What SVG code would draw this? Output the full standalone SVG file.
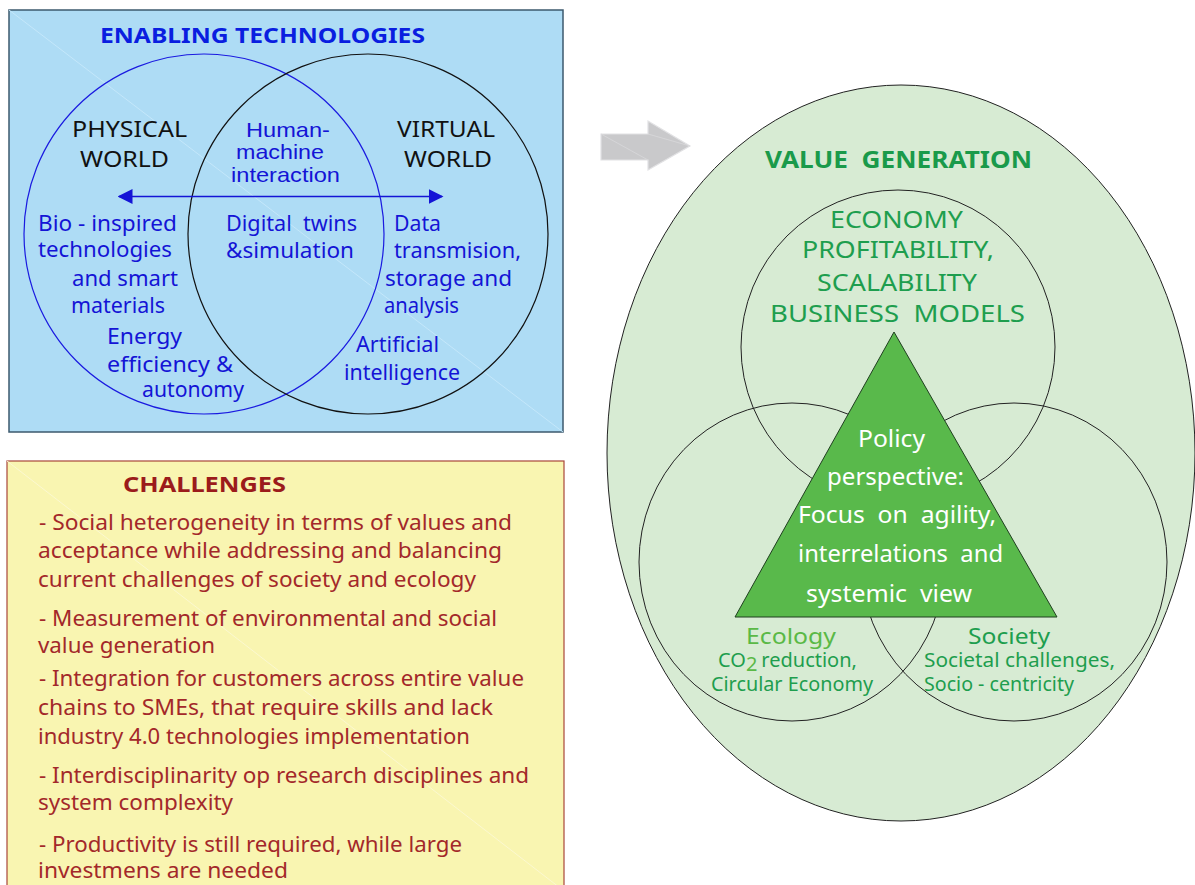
<svg xmlns="http://www.w3.org/2000/svg" width="1195" height="885" viewBox="0 0 1195 885">
<style>
text{font-family:"Noto Sans","Open Sans","DejaVu Sans",sans-serif;}
.bt{font-size:22px;fill:#1414d6;}
.bs{font-size:21px;fill:#1414d6;font-family:"Liberation Sans",Arial,sans-serif;}
.bk{font-size:22px;fill:#111;}
.gt{font-size:24px;fill:#1e9e4e;}
.wt{font-size:24px;fill:#ffffff;}
.gs{font-size:20px;fill:#1e9e4e;}
.rt{font-size:21px;fill:#a3282a;}
.ring{fill:none;stroke:#222;stroke-width:1;}
</style>
<defs>
<marker id="ah" viewBox="0 0 10 10" refX="9" refY="5" markerWidth="15" markerHeight="16" markerUnits="userSpaceOnUse" orient="auto-start-reverse">
<path d="M0,0 L10,5 L0,10 Z" fill="#1414d6"/>
</marker>
</defs>

<g id="enabling-technologies">
<rect x="9" y="10" width="554" height="422" fill="#aedcf5" stroke="#3c5a6e" stroke-width="1.5"/>
<line x1="9" y1="10" x2="563" y2="432" stroke="#c4e7fa" stroke-width="1"/>
<circle id="physical-circle" cx="204" cy="234" r="180" fill="none" stroke="#1a1ae0" stroke-width="1.2"/>
<circle id="virtual-circle" cx="368" cy="234" r="180" fill="none" stroke="#111" stroke-width="1.2"/>
<text x="100" y="43" font-size="22" font-weight="bold" fill="#0a1ee0" textLength="325" lengthAdjust="spacingAndGlyphs">ENABLING TECHNOLOGIES</text>
<text class="bk" x="72" y="137" textLength="115" lengthAdjust="spacingAndGlyphs">PHYSICAL</text>
<text class="bk" x="80" y="167" textLength="89" lengthAdjust="spacingAndGlyphs">WORLD</text>
<text class="bk" x="397" y="137" textLength="98" lengthAdjust="spacingAndGlyphs">VIRTUAL</text>
<text class="bk" x="404" y="167" textLength="88" lengthAdjust="spacingAndGlyphs">WORLD</text>
<text class="bs" x="246" y="137" textLength="84" lengthAdjust="spacingAndGlyphs">Human-</text>
<text class="bs" x="236" y="159" textLength="88" lengthAdjust="spacingAndGlyphs">machine</text>
<text class="bs" x="231" y="182" textLength="109" lengthAdjust="spacingAndGlyphs">interaction</text>
<text class="bt" x="38" y="231" textLength="139" lengthAdjust="spacingAndGlyphs">Bio - inspired</text>
<text class="bt" x="38" y="257" textLength="134" lengthAdjust="spacingAndGlyphs">technologies</text>
<text class="bt" x="72" y="286" textLength="106" lengthAdjust="spacingAndGlyphs">and smart</text>
<text class="bt" x="71" y="313" textLength="94" lengthAdjust="spacingAndGlyphs">materials</text>
<text class="bt" x="107" y="344" textLength="75" lengthAdjust="spacingAndGlyphs">Energy</text>
<text class="bt" x="107" y="372" textLength="126" lengthAdjust="spacingAndGlyphs">efficiency &amp;</text>
<text class="bt" x="142" y="397" textLength="102" lengthAdjust="spacingAndGlyphs">autonomy</text>
<text class="bt" x="226" y="231" textLength="131" lengthAdjust="spacingAndGlyphs" xml:space="preserve">Digital  twins</text>
<text class="bt" x="226" y="258" textLength="128" lengthAdjust="spacingAndGlyphs">&amp;simulation</text>
<text class="bt" x="394" y="231" textLength="47" lengthAdjust="spacingAndGlyphs">Data</text>
<text class="bt" x="394" y="258" textLength="127" lengthAdjust="spacingAndGlyphs">transmision,</text>
<text class="bt" x="385" y="286" textLength="127" lengthAdjust="spacingAndGlyphs">storage and</text>
<text class="bt" x="384" y="313" textLength="75" lengthAdjust="spacingAndGlyphs">analysis</text>
<text class="bt" x="356" y="352" textLength="83" lengthAdjust="spacingAndGlyphs">Artificial</text>
<text class="bt" x="344" y="380" textLength="116" lengthAdjust="spacingAndGlyphs">intelligence</text>
</g>

<g id="challenges">
<rect x="7" y="461" width="557" height="430" fill="#f9f5b1" stroke="#a8463a" stroke-width="1.2"/>
<line x1="7" y1="461" x2="564" y2="891" stroke="#fbf8d0" stroke-width="1"/>
<text x="123" y="492" font-size="22" font-weight="bold" fill="#9b1b1b" textLength="163" lengthAdjust="spacingAndGlyphs">CHALLENGES</text>
<text class="rt" x="39" y="530" textLength="473" lengthAdjust="spacingAndGlyphs">- Social heterogeneity in terms of values and</text>
<text class="rt" x="38" y="558" textLength="464" lengthAdjust="spacingAndGlyphs">acceptance while addressing and balancing</text>
<text class="rt" x="38" y="587" textLength="438" lengthAdjust="spacingAndGlyphs">current challenges of society and ecology</text>
<text class="rt" x="39" y="626" textLength="458" lengthAdjust="spacingAndGlyphs">- Measurement of environmental and social</text>
<text class="rt" x="38" y="653" textLength="177" lengthAdjust="spacingAndGlyphs">value generation</text>
<text class="rt" x="39" y="686" textLength="485" lengthAdjust="spacingAndGlyphs">- Integration for customers across entire value</text>
<text class="rt" x="38" y="715" textLength="455" lengthAdjust="spacingAndGlyphs">chains to SMEs, that require skills and lack</text>
<text class="rt" x="38" y="744" textLength="432" lengthAdjust="spacingAndGlyphs">industry 4.0 technologies implementation</text>
<text class="rt" x="39" y="783" textLength="490" lengthAdjust="spacingAndGlyphs">- Interdisciplinarity op research disciplines and</text>
<text class="rt" x="38" y="810" textLength="195" lengthAdjust="spacingAndGlyphs">system complexity</text>
<text class="rt" x="39" y="852" textLength="423" lengthAdjust="spacingAndGlyphs">- Productivity is still required, while large</text>
<text class="rt" x="38" y="878" textLength="250" lengthAdjust="spacingAndGlyphs">investmens are needed</text>
</g>

<g id="value-generation">
<ellipse cx="901" cy="453" rx="294" ry="368" fill="#d7ebd3" stroke="#222" stroke-width="1"/>
<text x="765" y="168" font-size="24" font-weight="bold" fill="#1a9a4a" textLength="267" lengthAdjust="spacingAndGlyphs" xml:space="preserve">VALUE  GENERATION</text>
</g>

<g id="economy">
<circle class="ring" cx="898" cy="347" r="157"/>
<text class="gt" x="830" y="228" textLength="133" lengthAdjust="spacingAndGlyphs">ECONOMY</text>
<text class="gt" x="802" y="258" textLength="192" lengthAdjust="spacingAndGlyphs">PROFITABILITY,</text>
<text class="gt" x="817" y="291" textLength="160" lengthAdjust="spacingAndGlyphs">SCALABILITY</text>
<text class="gt" x="770" y="322" textLength="255" lengthAdjust="spacingAndGlyphs" xml:space="preserve">BUSINESS  MODELS</text>
</g>

<g id="ecology">
<ellipse class="ring" cx="792" cy="562" rx="153" ry="159"/>
<text x="746" y="644" font-size="22" fill="#5ab946" textLength="90" lengthAdjust="spacingAndGlyphs">Ecology</text>
<text class="gs" x="718" y="667">CO<tspan fill="#5ab946" dy="4">2</tspan><tspan dx="4" dy="-4">reduction,</tspan></text>
<text class="gs" x="711" y="691" textLength="162" lengthAdjust="spacingAndGlyphs">Circular Economy</text>
</g>

<g id="society">
<ellipse class="ring" cx="1014" cy="562" rx="153" ry="159"/>
<text x="968" y="644" font-size="22" fill="#1e9e4e" textLength="82" lengthAdjust="spacingAndGlyphs">Society</text>
<text class="gs" x="924" y="667" textLength="191" lengthAdjust="spacingAndGlyphs">Societal challenges,</text>
<text class="gs" x="924" y="691" textLength="150" lengthAdjust="spacingAndGlyphs">Socio - centricity</text>
</g>

<g id="policy-perspective">
<polygon points="894,332 735,617 1057,617" fill="#59b94b" stroke="#1f3f1f" stroke-width="1"/>
<text class="wt" x="858" y="447" textLength="67" lengthAdjust="spacingAndGlyphs">Policy</text>
<text class="wt" x="827" y="485" textLength="137" lengthAdjust="spacingAndGlyphs">perspective:</text>
<text class="wt" x="798" y="523" textLength="198" lengthAdjust="spacingAndGlyphs" xml:space="preserve">Focus  on  agility,</text>
<text class="wt" x="798" y="562" textLength="205" lengthAdjust="spacingAndGlyphs" xml:space="preserve">interrelations  and</text>
<text class="wt" x="806" y="602" textLength="166" lengthAdjust="spacingAndGlyphs" xml:space="preserve">systemic  view</text>
</g>

<g id="connectors">
<line x1="119" y1="196.5" x2="442" y2="196.5" stroke="#1414d6" stroke-width="1.3" marker-start="url(#ah)" marker-end="url(#ah)"/>
<polygon points="601,134 648,134 648,121 690,146 648,170 648,160 601,160" fill="#c9c9cb" stroke="#e2e2e4" stroke-width="1.2"/>
<line x1="601" y1="134" x2="648" y2="160" stroke="#d8d8da" stroke-width="0.8"/>
<line x1="648" y1="134" x2="690" y2="146" stroke="#d8d8da" stroke-width="0.8"/>
</g>
</svg>
